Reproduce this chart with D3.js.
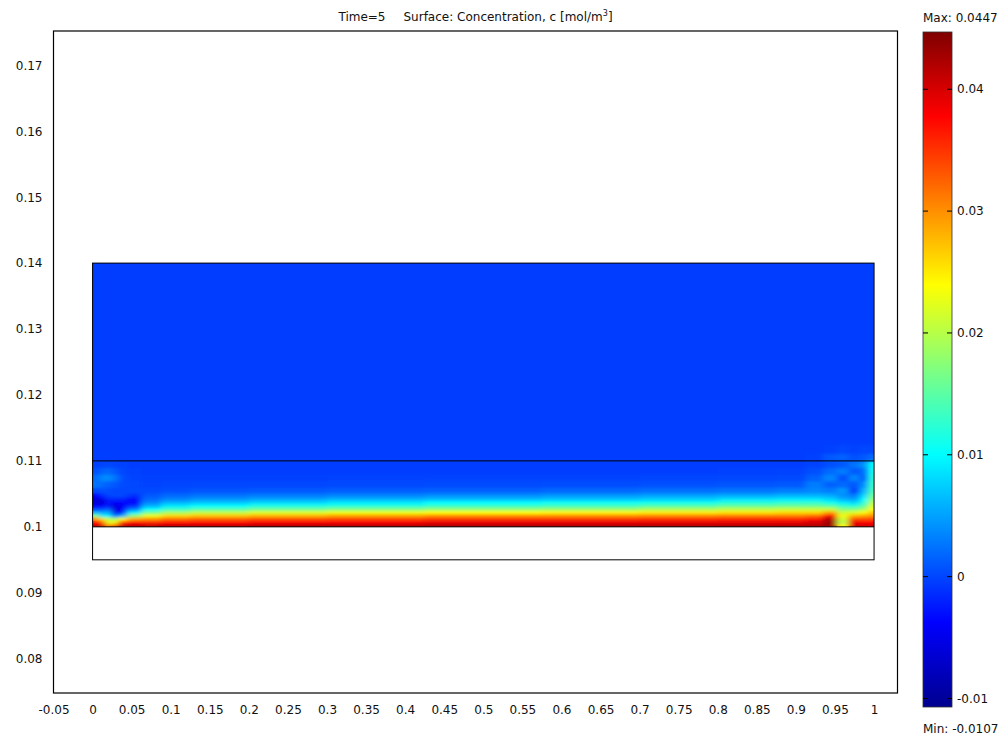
<!DOCTYPE html>
<html>
<head>
<meta charset="utf-8">
<title>Time=5 Surface: Concentration</title>
<script src="https://d3js.org/d3.v7.min.js"></script>
<style>
  body { margin: 0; background: #fff; }
  text { font-family: "DejaVu Sans", Verdana, sans-serif; font-size: 12px; fill: #111; }
</style>
</head>
<body>
<svg id="chart" width="1004" height="738"></svg>
<script>
// tick values of the two axes and of the colour legend
const xTicks = [-0.05, 0, 0.05, 0.1, 0.15, 0.2, 0.25, 0.3, 0.35, 0.4, 0.45, 0.5, 0.55, 0.6, 0.65, 0.7, 0.75, 0.8, 0.85, 0.9, 0.95, 1];
const yTicks = [0.08, 0.09, 0.1, 0.11, 0.12, 0.13, 0.14, 0.15, 0.16, 0.17];
const cbTicks = [-0.01, 0, 0.01, 0.02, 0.03, 0.04];
const cMin = -0.0107, cMax = 0.0447;

// geometry of the model: x extent and the horizontal boundaries
const domX = [0, 1];
const bounds = [0.095, 0.1, 0.11, 0.14];

// sampled field: column centres (x), row centres (y, bottom first)
const colX = [0.004, 0.012, 0.02, 0.028, 0.038, 0.05, 0.075, 0.1, 0.15, 0.25, 0.35, 0.5, 0.65, 0.75, 0.85, 0.9, 0.925, 0.945, 0.96, 0.975, 0.988, 0.997];
const rowY = [0.10025, 0.10075, 0.10125, 0.10175, 0.10225, 0.10275, 0.10325, 0.10375, 0.10425, 0.1048, 0.1055, 0.1065, 0.1075, 0.1085, 0.1095, 0.1105, 0.1118];
const rowTop = 0.1125;

// concentration in 1e-3 mol/m3, one array per column, bottom row first
const conc = [
  [40, 37, 30, 18, 6, 0, -4, -6, -6, -4, 0, 2.5, 2, 0.5, -0.2, -0.4, -0.4],
  [40, 35, 26, 9, 5, 0, -4, -6, -5, -2, 0.5, 2, 3.5, 1.5, -0.2, -0.4, -0.4],
  [30, 22, 21, 10, 6, 2, -2, -3, -2, 0, 0.5, 1.5, 4, 2, 0, -0.4, -0.4],
  [33, 23, 19, 2, -5, -6, -6, -4, -1.5, 0, 0, 1, 2.5, 1, -0.2, -0.4, -0.4],
  [41, 35, 24, 6, -2, -4, -4, -4, -2, 0, 0, 0.3, 0.5, 0, -0.3, -0.4, -0.4],
  [41, 37, 29, 18, 9, 3, -1, -3.5, -3, -1, 0.2, 0, -0.2, -0.3, -0.4, -0.4, -0.4],
  [41, 36, 30, 23, 16, 10, 6, 3.5, 2, 1, 0.2, -0.2, -0.3, -0.4, -0.4, -0.4, -0.4],
  [41, 37, 32, 26, 19, 13, 9, 6, 3.5, 2, 0.5, -0.1, -0.3, -0.4, -0.4, -0.4, -0.4],
  [41, 37, 33, 27, 20.5, 14.5, 10, 7, 4.5, 2.5, 0.8, 0, -0.3, -0.4, -0.4, -0.4, -0.4],
  [42, 38, 34, 28, 22, 16, 11.5, 8, 5.2, 3, 1, 0.1, -0.3, -0.4, -0.4, -0.4, -0.4],
  [42, 38, 34.5, 29, 23, 17, 12, 9, 6, 3.5, 1.3, 0.2, -0.2, -0.4, -0.4, -0.4, -0.4],
  [42, 39, 35, 30, 24, 18, 13, 10, 6.5, 4, 1.5, 0.3, -0.2, -0.4, -0.4, -0.4, -0.4],
  [42, 39, 35, 30, 24.5, 18.5, 13.5, 10.5, 7, 4.5, 1.8, 0.4, -0.2, -0.4, -0.4, -0.4, -0.4],
  [42, 39, 35.5, 30.5, 25, 19.5, 14.5, 11, 7.5, 5, 2.2, 0.6, -0.1, -0.4, -0.4, -0.4, -0.4],
  [42, 39, 36, 31, 25.5, 20.5, 15.5, 12, 8.5, 5.5, 2.6, 0.8, 0, -0.3, -0.4, -0.4, -0.4],
  [42, 39, 36, 31, 26, 21, 16, 12.5, 9, 6, 3, 1, 0.2, -0.2, -0.4, -0.4, -0.4],
  [42, 40, 37, 32, 26, 21, 16, 12.5, 9, 6, 3.5, 3, 1.5, 0.5, -0.2, -0.3, -0.4],
  [43, 43, 42, 38, 29, 21, 15, 11, 8, 5.5, 3, 1.5, 3.5, 2, 0.5, 1, -0.3],
  [24, 20, 21, 23, 21, 17, 13, 9, 6, 4, 4.5, 2, 0.5, 3, 1, 1.5, 0],
  [40, 39, 34, 28, 22, 17, 12, 8, 5, 3, -0.5, 1, 3.5, 1, 2.5, 0.5, -0.2],
  [40, 38, 34, 29, 24, 19, 15, 12, 10, 8, 6, 4, 1, 2, 4, 1, 0],
  [40, 38, 34, 30, 27, 24, 22, 20, 18, 16, 14, 13, 12, 11, 10, 2, 0]
];
const upperConc = -0.4;   // rest of the upper block, same units

// jet colour map stops
const jetT = [0, 0.125, 0.375, 0.625, 0.875, 1];
const jetC = ["#00008f", "#0000ff", "#00ffff", "#ffff00", "#ff0000", "#800000"];

const W = 1004, H = 738;
const svg = d3.select("#chart");
svg.append("rect").attr("width", W).attr("height", H).attr("fill", "#fff");

const x = d3.scaleLinear().domain([-0.05, 1.03]).range([53.5, 897.5]);
const y = d3.scaleLinear().domain([0.0748, 0.1752]).range([693, 31]);
const color = d3.scaleLinear()
  .domain(jetT.map(t => cMin + t * (cMax - cMin)))
  .range(jetC).clamp(true);

// cells
const mids = a => a.slice(1).map((v, i) => (v + a[i]) / 2);
const xEdges = [domX[0], ...mids(colX), domX[1]];
const yEdges = [bounds[1], ...mids(rowY), rowTop];
const cells = [];
conc.forEach((col, i) => col.forEach((v, j) => {
  cells.push({x0: xEdges[i], x1: xEdges[i + 1], y0: yEdges[j], y1: yEdges[j + 1], v: v * 1e-3});
}));
cells.push({x0: domX[0], x1: domX[1], y0: rowTop, y1: bounds[3], v: upperConc * 1e-3});

const defs = svg.append("defs");
defs.append("clipPath").attr("id", "dom").append("rect")
  .attr("x", x(domX[0])).attr("y", y(bounds[3]))
  .attr("width", x(domX[1]) - x(domX[0]))
  .attr("height", y(bounds[1]) - y(bounds[3]));
defs.append("filter").attr("id", "soft")
  .attr("filterUnits", "userSpaceOnUse")
  .attr("x", 0).attr("y", 0).attr("width", W).attr("height", H)
  .append("feGaussianBlur").attr("stdDeviation", "3 1.5");

const field = svg.append("g").attr("clip-path", "url(#dom)");
[null, "url(#soft)"].forEach(flt => {
  field.append("g").attr("filter", flt)
    .selectAll("rect").data(cells).join("rect")
      .attr("x", d => x(d.x0))
      .attr("y", d => y(d.y1))
      .attr("width", d => x(d.x1) - x(d.x0) + 0.6)
      .attr("height", d => y(d.y0) - y(d.y1) + 0.6)
      .attr("fill", d => color(d.v));
});

// model outline and inner boundaries
svg.append("rect")
  .attr("x", x(domX[0])).attr("y", y(bounds[3]))
  .attr("width", x(domX[1]) - x(domX[0]))
  .attr("height", y(bounds[0]) - y(bounds[3]))
  .attr("fill", "none").attr("stroke", "#000").attr("stroke-width", 1);
svg.selectAll("line.bnd").data(bounds.slice(1, 3)).join("line")
  .attr("class", "bnd")
  .attr("x1", x(domX[0])).attr("x2", x(domX[1]))
  .attr("y1", d => y(d)).attr("y2", d => y(d))
  .attr("stroke", "#000").attr("stroke-width", 1);

// axes frame
svg.append("rect")
  .attr("x", x.range()[0]).attr("y", y.range()[1])
  .attr("width", x.range()[1] - x.range()[0])
  .attr("height", y.range()[0] - y.range()[1])
  .attr("fill", "none").attr("stroke", "#000").attr("stroke-width", 1.2);

const xAxis = svg.append("g").attr("transform", `translate(0,${y.range()[0]})`)
  .call(d3.axisBottom(x).tickValues(xTicks).tickSize(0).tickPadding(12).tickFormat(String));
const yAxis = svg.append("g").attr("transform", `translate(${x.range()[0]},0)`)
  .call(d3.axisLeft(y).tickValues(yTicks).tickSize(0).tickPadding(11).tickFormat(String));
[xAxis, yAxis].forEach(a => {
  a.select(".domain").remove();
  a.selectAll("text").attr("font-family", null).attr("font-size", null).attr("fill", "#111");
});

// title
const title = svg.append("text").attr("x", (x.range()[0] + x.range()[1]) / 2).attr("y", 21)
  .attr("text-anchor", "middle");
title.append("tspan").text("Time=5");
title.append("tspan").attr("dx", 18).text("Surface: Concentration, c [mol/m");
title.append("tspan").attr("font-size", "8px").attr("dy", -5).text("3");
title.append("tspan").attr("dy", 5).text("]");

// colour legend
const cb = {x: 923, w: 29};
const cy = d3.scaleLinear().domain([cMin, cMax]).range([707, 32]);
const grad = defs.append("linearGradient").attr("id", "jet")
  .attr("x1", 0).attr("y1", 1).attr("x2", 0).attr("y2", 0);
grad.selectAll("stop").data(jetT).join("stop")
  .attr("offset", d => d).attr("stop-color", (d, i) => jetC[i]);
svg.append("rect")
  .attr("x", cb.x).attr("y", cy(cMax)).attr("width", cb.w)
  .attr("height", cy(cMin) - cy(cMax))
  .attr("fill", "url(#jet)").attr("stroke", "#333").attr("stroke-width", 0.8);
const cbt = svg.append("g").selectAll("g").data(cbTicks).join("g")
  .attr("transform", d => `translate(0,${cy(d)})`);
cbt.append("line").attr("x1", cb.x).attr("x2", cb.x + 5).attr("stroke", "#000");
cbt.append("line").attr("x1", cb.x + cb.w - 5).attr("x2", cb.x + cb.w).attr("stroke", "#000");
cbt.append("text").attr("x", cb.x + cb.w + 5).attr("dy", "0.35em").text(String);

svg.append("text").attr("x", cb.x).attr("y", 22).text("Max: " + cMax);
svg.append("text").attr("x", cb.x).attr("y", 733).text("Min: " + cMin);
</script>
</body>
</html>
